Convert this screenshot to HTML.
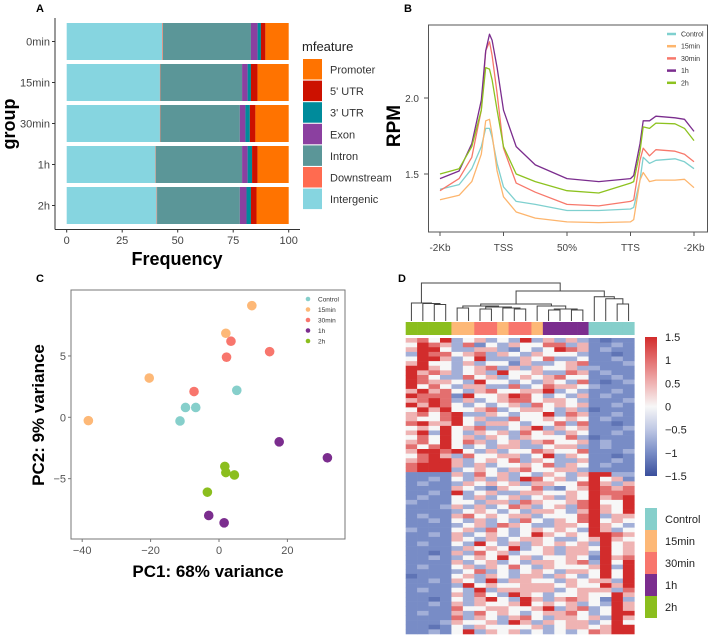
<!DOCTYPE html>
<html><head><meta charset="utf-8"><style>
html,body{margin:0;padding:0;background:#fff}
svg{display:block;font-family:"Liberation Sans",sans-serif}
</style></head><body>
<svg id="fig" width="708" height="635" viewBox="0 0 708 635" xmlns="http://www.w3.org/2000/svg">
<text x="36" y="12" font-size="11" font-weight="bold">A</text>
<text x="404" y="12" font-size="11" font-weight="bold">B</text>
<text x="36" y="282" font-size="11" font-weight="bold">C</text>
<text x="398" y="282" font-size="11" font-weight="bold">D</text>
<g id="pa"></g>
<g id="pb"></g>
<g id="pc"></g>
<g id="pd"></g>
</svg>
<script>
// ---- Panel A data
const aGroups=["0min","15min","30min","1h","2h"];
const aFeatures=["Intergenic","Downstream","Intron","Exon","3' UTR","5' UTR","Promoter"];
const aIntergenic=[43,42,42,40,40.5];
const aDownstream=[0.3,0.2,0.2,0.2,0.2];
const aIntron=[39.7,36.8,35.8,38.8,37.3];
const aExon=[3,2.5,2.5,2.5,3];
const aUTR3=[1.5,1.5,2,2,2];
const aUTR5=[2,3,2.5,2.5,2.5];
const aPromoter=[10.5,14,15,14,14.5];
const aTicks=[0,25,50,75,100];
// ---- Panel B data
const bPos=[0,0.3,0.5,0.65,0.72,0.78,0.82,0.9,1.0,1.2,1.5,2,2.5,3,3.05,3.15,3.2,3.3,3.4,3.7,3.85,4];
const bSeriesNames=["Control","15min","30min","1h","2h"];
const bControl=[1.40,1.43,1.535,1.68,1.80,1.80,1.74,1.57,1.415,1.32,1.30,1.26,1.26,1.27,1.28,1.46,1.61,1.57,1.59,1.60,1.58,1.535];
const b15min=[1.33,1.36,1.45,1.63,1.85,1.86,1.76,1.52,1.35,1.25,1.21,1.185,1.18,1.185,1.20,1.46,1.51,1.45,1.46,1.46,1.465,1.41];
const b30min=[1.39,1.47,1.61,1.92,2.31,2.37,2.28,2.03,1.67,1.44,1.38,1.30,1.29,1.32,1.33,1.59,1.67,1.62,1.66,1.65,1.63,1.58];
const b1h=[1.47,1.52,1.70,1.985,2.31,2.42,2.38,2.20,1.92,1.68,1.56,1.47,1.45,1.47,1.49,1.70,1.85,1.85,1.88,1.87,1.86,1.78];
const b2h=[1.50,1.535,1.68,1.92,2.20,2.19,2.12,1.92,1.68,1.50,1.45,1.39,1.375,1.44,1.45,1.65,1.81,1.80,1.835,1.83,1.80,1.72];
const bXTicks=["-2Kb","TSS","50%","TTS","-2Kb"];
const bYTicks=[1.5,2.0];
// ---- Panel C data
const cControlX=[5.2,-9.8,-6.8,-11.4], cControlY=[2.2,0.8,0.8,-0.3];
const c15X=[9.6,2.0,-20.4,-38.2], c15Y=[9.1,6.85,3.2,-0.27];
const c30X=[3.5,2.2,14.8,-7.3], c30Y=[6.2,4.9,5.35,2.1];
const c1hX=[17.6,31.7,-3.0,1.5], c1hY=[-2.0,-3.3,-8.0,-8.6];
const c2hX=[1.7,2.0,4.5,-3.4], c2hY=[-4.0,-4.5,-4.7,-6.1];
const cXTicks=[-40,-20,0,20];
const cYTicks=[-5,0,5];
// ---- Panel D data (digits 0..6 => -1.5..1.5)
const dColGroups=["2h","2h","2h","2h","15min","15min","30min","30min","15min","30min","30min","15min","1h","1h","1h","1h","Control","Control","Control","Control"];
const dRows=[
"45362342326242421011","36542513243355241121","46632244213236541211","26553452432433321101",
"36642362224352231121","46332423314223451112","66432345242433422111","64542342633422541211",
"65322534234345331121","65443263323243251012","63532442252354432111","46453245334462321121",
"65551633465323241211","45652423455344321112","64653232342534341121","36463345234432420111",
"45356224323362541121","43356342253343431211","56446324432335251101","34363452234624341112",
"46263243425342431121","35363424324333520111","45363542342453341211","53563232442234421211",
"46656324233543351112","35642533442362431101","45664234352432241121","56664242334352431211",
"56662343245334421111",
"11114253423243246622","11213242426534236341","12112434342443356424","11114321433521346545",
"11216234224433436555","12113242342342436456","21113324425433456336","11124242354234256436",
"11112343232443246436","12114534344233356244","11213242325324356343","11112342543224436432",
"21113425323434326423","11214234323643436654","11114324234432234643","12113263242434342634",
"11112434362342443634","11014253423342442634","11212343634233431645","11114234232443452636",
"12113424353243334626","11112352323432443636","01113424324424323636","11214326244332434426",
"11112634334443433646","12113262444442344425","11114253264323343364","11013246326424543162",
"11214243346343423264","11115334433462452364","12114253432344532366","11115243245324434264",
"11124334264243442363","11013243333423443466","11213624342323235466"];
const dScaleTicks=[1.5,1,0.5,0,-0.5,-1,-1.5];
const dScaleLabels=["1.5","1","0.5","0","\u22120.5","\u22121","\u22121.5"];
const dLegendNames=["Control","15min","30min","1h","2h"];

const NS="http://www.w3.org/2000/svg";
function mk(parent,tag,attrs,text){const e=document.createElementNS(NS,tag);for(const k in attrs)e.setAttribute(k,attrs[k]);if(text!==undefined)e.textContent=text;parent.appendChild(e);return e;}

// ================= Panel A
(function(){
const g=document.getElementById('pa');
const xA=v=>66.7+v*2.22;
const yA=i=>41.5+i*41;
const cols={"Intergenic":"#86D5E0","Downstream":"#FF6B50","Intron":"#5B9698","Exon":"#8B40A0","3' UTR":"#008B9B","5' UTR":"#CC1100","Promoter":"#FF7300"};
const series=[aIntergenic,aDownstream,aIntron,aExon,aUTR3,aUTR5,aPromoter];
aGroups.forEach((grp,i)=>{
  let acc=0;
  series.forEach((s,j)=>{
    const r=mk(g,'rect',{x:xA(acc),y:yA(i)-18.5,width:Math.max(0.3,s[i]*2.22),height:37,fill:cols[aFeatures[j]]});
    
    
    acc+=s[i];
  });
  const t=mk(g,'text',{x:50,y:yA(i)+4,'font-size':11,fill:'#444','text-anchor':'end'},grp);
  
  
  mk(g,'line',{x1:52,x2:55,y1:yA(i),y2:yA(i),stroke:'#333'});
});
mk(g,'line',{x1:55,x2:55,y1:18,y2:229.5,stroke:'#333'});
mk(g,'line',{x1:55,x2:300,y1:229.5,y2:229.5,stroke:'#333'});
aTicks.forEach(v=>{
  mk(g,'line',{x1:xA(v),x2:xA(v),y1:229.5,y2:232.5,stroke:'#333'});
  const t=mk(g,'text',{x:xA(v),y:244,'font-size':11,fill:'#444','text-anchor':'middle'},String(v));
  
  
});
const xt=mk(g,'text',{x:177,y:265,'font-size':18,'font-weight':'bold','text-anchor':'middle'},'Frequency');


const yt=mk(g,'text',{x:0,y:0,'font-size':18,'font-weight':'bold','text-anchor':'middle',transform:'translate(15,124) rotate(-90)'},'group');


const lt=mk(g,'text',{x:302,y:51,'font-size':13,fill:'#222'},'mfeature');


const order=["Promoter","5' UTR","3' UTR","Exon","Intron","Downstream","Intergenic"];
order.forEach((f,k)=>{
  const y=59+k*21.6;
  const r=mk(g,'rect',{x:303,y:y,width:19,height:20.5,fill:cols[f]});
  
  
  const t=mk(g,'text',{x:330,y:y+14.5,'font-size':11,fill:'#333'},f);
  
  
});
})();

// ================= Panel B
(function(){
const g=document.getElementById('pb');
const xB=t=>440+t*63.5;
const yB=v=>98+(2.0-v)*152;
mk(g,'rect',{x:428.5,y:25,width:279,height:207,fill:'none',stroke:'#555'});
bXTicks.forEach((l,i)=>{
  mk(g,'line',{x1:xB(i),x2:xB(i),y1:232,y2:236,stroke:'#555'});
  const t=mk(g,'text',{x:xB(i),y:251,'font-size':10,fill:'#444','text-anchor':'middle'},l);
  
  
});
bYTicks.forEach(v=>{
  mk(g,'line',{x1:424,x2:428.5,y1:yB(v),y2:yB(v),stroke:'#555'});
  const t=mk(g,'text',{x:419,y:yB(v)+4,'font-size':10,fill:'#444','text-anchor':'end'},v.toFixed(1));
  
  
});
const yt=mk(g,'text',{x:0,y:0,'font-size':19,'font-weight':'bold','text-anchor':'middle',transform:'translate(400,126) rotate(-90)'},'RPM');


const data=[bControl,b15min,b30min,b1h,b2h];
const colors=["#7FD0CF","#FDB56D","#F7786B","#7B2D8E","#8DC21F"];
data.forEach((s,k)=>{
  const d=s.map((v,i)=>(i?'L':'M')+xB(bPos[i]).toFixed(1)+','+yB(v).toFixed(1)).join(' ');
  const p=mk(g,'path',{d:d,fill:'none',stroke:colors[k],'stroke-width':1.3,'stroke-linejoin':'round'});
  
  
  const ly=34+k*12.2;
  mk(g,'line',{x1:667,x2:676,y1:ly,y2:ly,stroke:colors[k],'stroke-width':2.5});
  const t=mk(g,'text',{x:681,y:ly+2.5,'font-size':7,fill:'#333'},bSeriesNames[k]);
  
  
});
})();

// ================= Panel C
(function(){
const g=document.getElementById('pc');
const xC=v=>219+v*3.42;
const yC=v=>417.3-v*12.27;
mk(g,'rect',{x:71,y:290,width:274,height:249,fill:'none',stroke:'#777'});
cXTicks.forEach(v=>{
  mk(g,'line',{x1:xC(v),x2:xC(v),y1:539,y2:542,stroke:'#777'});
  const t=mk(g,'text',{x:xC(v),y:554,'font-size':11,fill:'#555','text-anchor':'middle'},v<0?'\u2212'+(-v):String(v));
  
  
});
cYTicks.forEach(v=>{
  mk(g,'line',{x1:68,x2:71,y1:yC(v),y2:yC(v),stroke:'#777'});
  const t=mk(g,'text',{x:66,y:yC(v)+4,'font-size':11,fill:'#555','text-anchor':'end'},v<0?'\u2212'+(-v):String(v));
  
  
});
const xt=mk(g,'text',{x:208,y:577,'font-size':17,'font-weight':'bold','text-anchor':'middle'},'PC1: 68% variance');


const yt=mk(g,'text',{x:0,y:0,'font-size':17,'font-weight':'bold','text-anchor':'middle',transform:'translate(44,415) rotate(-90)'},'PC2: 9% variance');


const names=["Control","15min","30min","1h","2h"];
const colors=["#86CFCB","#FDB877","#F8766D","#7B2D8E","#8BBE1E"];
const xs=[cControlX,c15X,c30X,c1hX,c2hX], ys=[cControlY,c15Y,c30Y,c1hY,c2hY];
names.forEach((n,k)=>{
  xs[k].forEach((v,i)=>{
    const c=mk(g,'circle',{cx:xC(v),cy:yC(ys[k][i]),r:4.8,fill:colors[k]});
    
    
  });
  const ly=299+k*10.5;
  mk(g,'circle',{cx:308,cy:ly,r:2.3,fill:colors[k]});
  const t=mk(g,'text',{x:318,y:ly+2.5,'font-size':6.5,fill:'#333'},n);
  
  
});
})();

// ================= Panel D
(function(){
const g=document.getElementById('pd');
const x0=405.7,cw=11.43,y0=338,h=296;
const rh=h/dRows.length;
const stops=[[-1.5,[58,79,156]],[-1,[120,140,198]],[-0.5,[190,199,228]],[0,[247,247,247]],[0.5,[239,179,179]],[1,[227,111,111]],[1.5,[210,44,44]]];
function col(v){v=Math.max(-1.5,Math.min(1.5,v));for(let i=0;i<stops.length-1;i++){const a=stops[i],b=stops[i+1];if(v<=b[0]){const f=(v-a[0])/(b[0]-a[0]);const c=a[1].map((x,j)=>Math.round(x+(b[1][j]-x)*f));return 'rgb('+c.join(',')+')';}}return 'rgb(210,44,44)';}
const xD=i=>x0+i*cw;
const yD=r=>y0+r*rh;
dRows.forEach((row,r)=>{
  for(let c=0;c<row.length;c++){
    let v=(parseInt(row[c])-3)*0.5;
    if(v===-1.5)v=-1.2;
    if(v===-0.5)v=-0.7;
    const e=mk(g,'rect',{x:xD(c).toFixed(2),y:yD(r).toFixed(2),width:(cw+0.3).toFixed(2),height:(rh+0.3).toFixed(2),fill:col(v)});
    
    
  }
});
const gc={"Control":"#86CFCB","15min":"#FDB877","30min":"#F8766D","1h":"#7B2D8E","2h":"#8BBE1E"};
dColGroups.forEach((grp,c)=>{
  const e=mk(g,'rect',{x:xD(c).toFixed(2),y:322,width:(cw+0.3).toFixed(2),height:13,fill:gc[grp]});
  
  
});
// dendrogram
const tree=[283,[303,0,[303.5,1,[304.5,2,3]]],[291,[304,[306,[308,4,5],[307,[309,6,7],[308,8,[309,9,10]]]],[306,11,[309,[310,12,13],[310,14,15]]]],[296.7,16,[298.7,17,[304,18,19]]]]];
const dg=mk(g,'g',{stroke:'#444','stroke-width':1,fill:'none'});


function draw(n){
  if(typeof n==='number')return {x:xD(n)+cw/2,y:321};
  const a=draw(n[1]),b=draw(n[2]),hh=n[0];
  mk(dg,'path',{d:`M${a.x},${a.y}V${hh}H${b.x}V${b.y}`});
  return {x:(a.x+b.x)/2,y:hh};
}
draw(tree);
// color scale
const grd=mk(g,'defs',{});
const lg=mk(grd,'linearGradient',{id:'sc',x1:0,y1:0,x2:0,y2:1});
stops.slice().reverse().forEach((s,i)=>mk(lg,'stop',{offset:(i/6),'stop-color':col(s[0])}));
const sb=mk(g,'rect',{x:645,y:337,width:12,height:139,fill:'url(#sc)'});


dScaleTicks.forEach((v,i)=>{
  const y=337+(1.5-v)/3*139;
  const t=mk(g,'text',{x:665,y:y+4,'font-size':11,fill:'#222'},dScaleLabels[i]);
  
  
});
dLegendNames.forEach((n,k)=>{
  const y=508+k*22;
  const r=mk(g,'rect',{x:645,y:y,width:12,height:22,fill:gc[n]});
  
  
  const t=mk(g,'text',{x:665,y:y+15,'font-size':11,fill:'#222'},n);
  
  
});
})();
</script>
</body></html>
